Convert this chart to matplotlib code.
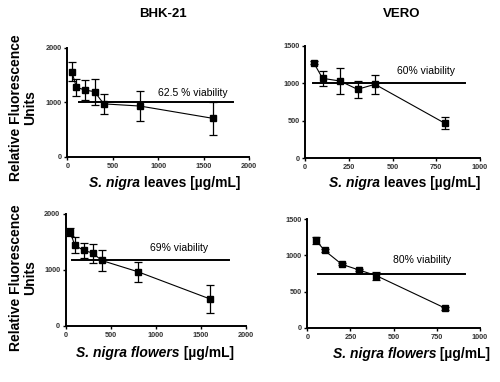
import matplotlib.pyplot as plt

plt.rcParams['font.family'] = ['Liberation Sans', 'DejaVu Sans']

# concentrations (ug/mL)
conc_bhk = [50, 100, 200, 300, 400, 800, 1600]
conc_vero = [50, 100, 200, 300, 400, 800]

# fluorescence readings and error bars
bhk_leaves = [1565, 1280, 1225, 1200, 975, 935, 710]
bhk_leaves_err = [170, 160, 180, 240, 190, 270, 300]
vero_leaves = [1276, 1067, 1031, 920, 987, 464]
vero_leaves_err = [20, 100, 180, 110, 130, 80]
bhk_flowers = [1685, 1442, 1351, 1303, 1170, 970, 485]
bhk_flowers_err = [70, 140, 140, 170, 180, 180, 245]
vero_flowers = [1205, 1067, 876, 798, 720, 271]
vero_flowers_err = [50, 15, 15, 15, 55, 20]

# viability threshold lines: level, x start, x end, label
viab = [
    (1000, 125, 1820, '62.5 % viability'),
    (1000, 47, 914, '60% viability'),
    (1170, 67, 1818, '69% viability'),
    (750, 64, 913, '80% viability'),
]

W, H = 500, 382
fig = plt.figure(figsize=(5, 3.82), dpi=100)


def px_axes(x0, x1, y0, y1):
    # x0,x1 left/right, y0 bottom, y1 top (pixels from top-left)
    return fig.add_axes([x0 / W, 1 - y0 / H, (x1 - x0) / W, (y0 - y1) / H])


panels = [
    (px_axes(67.3, 249, 157, 48), conc_bhk, bhk_leaves, bhk_leaves_err,
     (0, 2000), (0, 2000), [0, 500, 1000, 1500, 2000], [0, 1000, 2000],
     (1379, 1183), 'S. nigra', ' leaves [µg/mL]', (89, 183)),
    (px_axes(305, 480, 158, 46), conc_vero, vero_leaves, vero_leaves_err,
     (0, 1000), (0, 1500), [0, 250, 500, 750, 1000], [0, 500, 1000, 1500],
     (690, 1165), 'S. nigra', ' leaves [µg/mL]', (329, 183)),
    (px_axes(65.7, 245.7, 326, 214), conc_bhk, bhk_flowers, bhk_flowers_err,
     (0, 2000), (0, 2000), [0, 500, 1000, 1500, 2000], [0, 1000, 2000],
     (1255, 1398), 'S. nigra flowers', ' [µg/mL]', (76, 353)),
    (px_axes(307.3, 480, 328, 219), conc_vero, vero_flowers, vero_flowers_err,
     (0, 1000), (0, 1500), [0, 250, 500, 750, 1000], [0, 500, 1000, 1500],
     (662, 935), 'S. nigra flowers', ' [µg/mL]', (333, 354)),
]

for i, (ax, x, y, e, xl, yl, xt, yt, lab, ital, rest, xlab) in enumerate(panels):
    ax.errorbar(x, y, yerr=e, color='black', marker='s', ms=4.2, lw=0.8,
                elinewidth=0.9, capsize=2.6, capthick=0.9)
    lvl, xa, xb, txt = viab[i]
    ax.plot([xa, xb], [lvl, lvl], color='black', lw=1.4)
    ax.text(lab[0], lab[1], txt, ha='center', va='center', fontsize=7.5)
    ax.set_xlim(*xl)
    ax.set_ylim(*yl)
    ax.set_xticks(xt)
    ax.set_yticks(yt)
    for s in ['top', 'right']:
        ax.spines[s].set_visible(False)
    for s in ['left', 'bottom']:
        ax.spines[s].set_linewidth(1.4)
    ax.tick_params(direction='out', length=2.5, width=1, pad=1.5,
                   labelsize=5.3, labelcolor='#333333')
    for t in ax.get_xticklabels() + ax.get_yticklabels():
        t.set_fontweight('bold')
    ax.patch.set_alpha(0)
    # x label with italic species name
    t1 = fig.text(xlab[0] / W, 1 - xlab[1] / H, ital, fontsize=10,
                  fontweight='bold', fontstyle='italic', va='center', ha='left')
    ax.annotate(rest, xy=(1, 0), xycoords=t1, va='bottom', ha='left',
                fontsize=10, fontweight='bold')

# y labels
for yc in [108, 278]:
    fig.text(23 / W, 1 - yc / H, 'Relative Fluorescence\nUnits', rotation=90,
             ha='center', va='center', fontsize=10, fontweight='bold',
             multialignment='center', linespacing=1.0)

# column titles
fig.text(163 / W, 1 - 14 / H, 'BHK-21', ha='center', va='center',
         fontsize=9.5, fontweight='bold')
fig.text(402 / W, 1 - 14 / H, 'VERO', ha='center', va='center',
         fontsize=9.5, fontweight='bold')

fig.savefig('out.png', dpi=100)
